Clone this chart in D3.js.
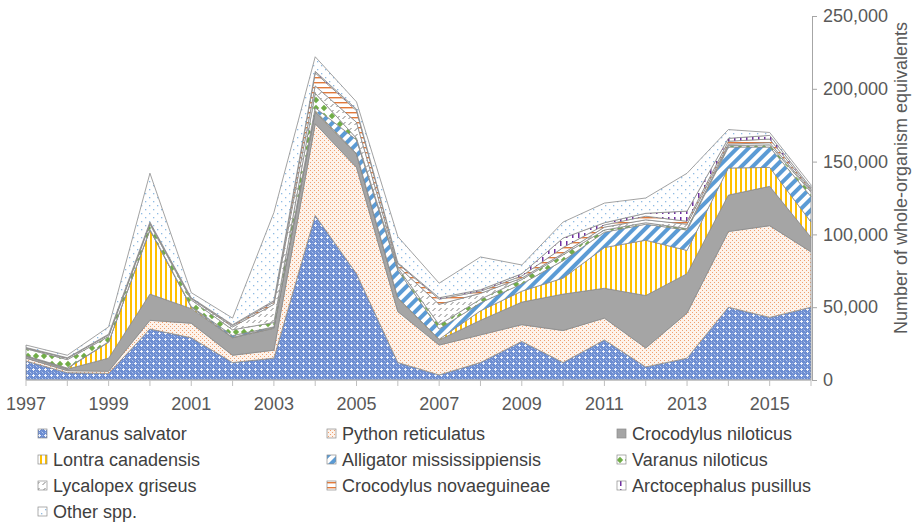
<!DOCTYPE html>
<html><head><meta charset="utf-8">
<script src="https://cdn.jsdelivr.net/npm/d3@7"></script>
<style>body{margin:0;background:#fff;} svg{display:block;font-family:"Liberation Sans",Arial,sans-serif;}</style>
</head><body><svg id="chart" width="913" height="524"></svg>
<script>
const years = [1997,1998,1999,2000,2001,2002,2003,2004,2005,2006,2007,2008,2009,2010,2011,2012,2013,2014,2015,2016];
const seriesNames = ["Varanus salvator","Python reticulatus","Crocodylus niloticus","Lontra canadensis","Alligator mississippiensis","Varanus niloticus","Lycalopex griseus","Crocodylus novaeguineae","Arctocephalus pusillus","Other spp."];
const varanusSalvator      = [13000,5000,4500,35000,29000,12000,15000,113000,73000,12000,3500,12000,26500,12000,27500,9000,15000,50000,43000,50000];
const pythonReticulatus    = [2000,1400,1500,6000,10000,5000,5500,63000,73000,35000,20500,19000,11500,22000,15000,13000,31000,52000,63000,38000];
const crocodylusNiloticus  = [1500,1100,9000,18000,10000,12000,15000,8000,9000,9000,3500,10000,15500,25000,20500,36000,27000,25000,27000,10000];
const lontraCanadensis     = [0,500,11000,44000,1000,300,500,1000,500,500,500,6500,7500,11000,28000,38000,16000,18600,13000,10500];
const alligatorMiss        = [200,200,300,500,500,1200,500,2000,9500,19000,7000,5500,5000,12000,10500,11000,14000,14400,14000,17500];
const varanusNiloticus     = [4800,5800,3700,3500,4500,4000,3000,10000,1000,1500,3000,2500,3000,4000,1500,1000,1000,1000,1500,3000];
const lycalopexGriseus     = [500,1000,1000,1000,1000,2000,12500,5000,11000,1000,14000,4000,1000,1000,2000,2000,3000,1000,1500,1000];
const crocodylusNovae      = [200,200,300,300,300,1000,1500,9000,8000,2000,3500,1500,1500,4000,1500,2500,2000,2000,2500,1000];
const arctocephalusPusillus= [100,100,200,200,200,500,1000,1000,1000,500,1000,1000,1500,6500,1500,2000,7000,2000,2500,1000];
const otherSpp             = [1700,1700,5000,33500,3500,4500,60500,10000,5000,18000,10000,22500,6000,11000,13500,10500,26000,6000,2000,2000];
const yTickValues = [0,50000,100000,150000,200000,250000];
const xTickLabels = [1997,1999,2001,2003,2005,2007,2009,2011,2013,2015];
const yTitle = "Number of whole-organism equivalents";

const seriesArrays = [varanusSalvator,pythonReticulatus,crocodylusNiloticus,lontraCanadensis,alligatorMiss,varanusNiloticus,lycalopexGriseus,crocodylusNovae,arctocephalusPusillus,otherSpp];
const rows = years.map((yr,i) => {
  const r = {year: yr};
  seriesNames.forEach((n,k) => r[n] = seriesArrays[k][i]);
  return r;
});

const svg = d3.select("#chart");
const defs = svg.append("defs");
const pid = ["p0","p1","p2","p3","p4","p5","p6","p7","p8","p9"];

function pat(id,w,h,transform){
  const p = defs.append("pattern").attr("id",id).attr("patternUnits","userSpaceOnUse").attr("width",w).attr("height",h);
  if (transform) p.attr("patternTransform",transform);
  return p;
}
// Varanus salvator: blue with white crosses
{ const p = pat("p0",6,6);
  p.append("rect").attr("width",6).attr("height",6).attr("fill","#6c8dd2");
  [[0,0,0.55],[3,0,0.35],[0,3,0.35],[1,1,0.25],[5,5,0.25]].forEach(([a,b,o])=>p.append("rect").attr("x",a).attr("y",b).attr("width",1).attr("height",1).attr("fill","#fff").attr("opacity",o));
  [[3,2],[2,3],[3,3],[4,3],[3,4]].forEach(([a,b])=>p.append("rect").attr("x",a).attr("y",b).attr("width",1).attr("height",1).attr("fill","#fff").attr("opacity",0.9));
}
// Python: peach dots
{ const p = pat("p1",4,4);
  p.append("rect").attr("width",4).attr("height",4).attr("fill","#fdf3eb");
  p.append("rect").attr("x",0).attr("y",0).attr("width",1).attr("height",1).attr("fill","#f0a070");
  p.append("rect").attr("x",2).attr("y",2).attr("width",1).attr("height",1).attr("fill","#f0a070");
}
// Crocodylus niloticus: solid gray
{ const p = pat("p2",4,4);
  p.append("rect").attr("width",4).attr("height",4).attr("fill","#a5a5a5");
}
// Lontra: yellow vertical stripes
{ const p = pat("p3",5,5);
  p.append("rect").attr("width",5).attr("height",5).attr("fill","#fff");
  p.append("rect").attr("width",2).attr("height",5).attr("fill","#ffc000");
}
// Alligator: blue diagonal stripes
{ const p = pat("p4",8,8,"rotate(45)");
  p.append("rect").attr("width",8).attr("height",8).attr("fill","#fff");
  p.append("rect").attr("width",4).attr("height",8).attr("fill","#5b9bd5");
}
// Varanus niloticus: green diamonds
{ const p = pat("p5",8,8);
  p.append("rect").attr("width",8).attr("height",8).attr("fill","#fff");
  p.append("polygon").attr("points","4,0.8 7.2,4 4,7.2 0.8,4").attr("fill","#70ad47");
}
// Lycalopex: gray dashed diagonals
{ const p = pat("p6",6,6);
  p.append("rect").attr("width",6).attr("height",6).attr("fill","#fff");
  p.append("line").attr("x1",0.5).attr("y1",5).attr("x2",3.5).attr("y2",2).attr("stroke","#7f7f7f").attr("stroke-width",1);
}
// Crocodylus novaeguineae: orange horizontal lines
{ const p = pat("p7",5,5);
  p.append("rect").attr("width",5).attr("height",5).attr("fill","#fff");
  p.append("rect").attr("y",2).attr("width",5).attr("height",1.4).attr("fill","#e2793a");
}
// Arctocephalus: purple vertical dashes
{ const p = pat("p8",6,8);
  p.append("rect").attr("width",6).attr("height",8).attr("fill","#fff");
  p.append("rect").attr("x",2).attr("y",1).attr("width",1.5).attr("height",5).attr("fill","#7030a0");
}
// Other spp.: white with light blue dots
{ const p = pat("p9",8,8);
  p.append("rect").attr("width",8).attr("height",8).attr("fill","#fff");
  p.append("rect").attr("x",1).attr("y",1).attr("width",1.3).attr("height",1.3).attr("fill","#8fbbe4");
  p.append("rect").attr("x",5).attr("y",5).attr("width",1.3).attr("height",1.3).attr("fill","#8fbbe4");
}

const x = d3.scaleLinear().domain([1997,2016]).range([26,811]);
const y = d3.scaleLinear().domain([0,250000]).range([380,16]);

const stacked = d3.stack().keys(seriesNames)(rows);
const area = d3.area().x(d=>x(d.data.year)).y0(d=>y(d[0])).y1(d=>y(d[1]));

svg.append("g").selectAll("path").data(stacked).join("path")
  .attr("d",area)
  .attr("fill",(d,i)=>`url(#${pid[i]})`)
  .attr("stroke","#8c8c8c").attr("stroke-width",0.8).attr("stroke-linejoin","round");

// x axis
const xg = svg.append("g").attr("transform","translate(0,380)");
xg.append("line").attr("x1",x(1997)).attr("x2",x(2016)).attr("stroke","#bfbfbf").attr("stroke-width",1);
xg.selectAll("line.t").data(years).join("line").attr("class","t")
  .attr("x1",d=>x(d)).attr("x2",d=>x(d)).attr("y1",0).attr("y2",6).attr("stroke","#bfbfbf");
xg.selectAll("text").data(xTickLabels).join("text")
  .attr("x",d=>x(d)).attr("y",30).attr("text-anchor","middle")
  .attr("font-size",18).attr("fill","#595959").text(d=>d);

// y axis on right
const yAxis = d3.axisRight(y).tickValues(yTickValues).tickFormat(d3.format(",")).tickSize(5).tickPadding(6);
const yg = svg.append("g").attr("transform","translate(812,0)").call(yAxis);
yg.select(".domain").attr("stroke","#a6a6a6");
yg.selectAll(".tick line").attr("stroke","#a6a6a6");
yg.selectAll(".tick text").attr("font-size",18).attr("fill","#595959").attr("font-family","Liberation Sans, Arial, sans-serif");

svg.append("text").attr("transform","translate(907,178) rotate(-90)")
  .attr("text-anchor","middle").attr("font-size",18).attr("fill","#595959").text(yTitle);

// legend
const colX = [38,327,617];
const rowY = [440,466,492,518];
const lg = svg.append("g");
seriesNames.forEach((n,i)=>{
  const cx = colX[i%3], by = rowY[Math.floor(i/3)];
  lg.append("rect").attr("x",cx).attr("y",by-11).attr("width",9).attr("height",9)
    .attr("fill",`url(#${pid[i]})`).attr("stroke","#8c8c8c").attr("stroke-width",0.7);
  lg.append("text").attr("x",cx+15).attr("y",by).attr("font-size",18).attr("fill","#404040").text(n);
});
</script></body></html>
